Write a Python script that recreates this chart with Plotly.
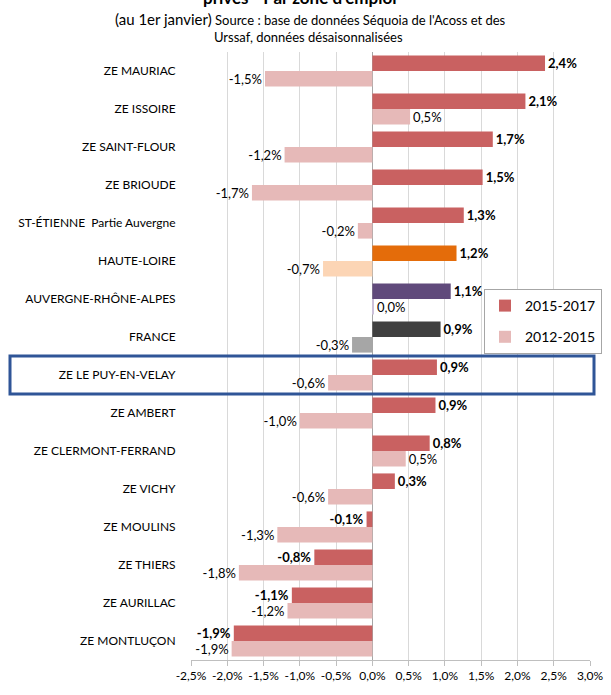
import plotly.graph_objects as go

categories = [
    "ZE MAURIAC", "ZE ISSOIRE", "ZE SAINT-FLOUR", "ZE BRIOUDE",
    "ST-ÉTIENNE  Partie Auvergne", "HAUTE-LOIRE", "AUVERGNE-RHÔNE-ALPES",
    "FRANCE", "ZE LE PUY-EN-VELAY", "ZE AMBERT", "ZE CLERMONT-FERRAND",
    "ZE VICHY", "ZE MOULINS", "ZE THIERS", "ZE AURILLAC", "ZE MONTLUÇON",
]
v_2015_2017 = [2.38, 2.11, 1.66, 1.52, 1.26, 1.16, 1.08, 0.94, 0.89, 0.87,
               0.79, 0.31, -0.08, -0.80, -1.11, -1.91]
v_2012_2015 = [-1.48, 0.52, -1.21, -1.66, -0.20, -0.68, 0.01, -0.28, -0.61,
               -1.00, 0.46, -0.61, -1.31, -1.84, -1.17, -1.94]
series_names = ["2015-2017", "2012-2015"]
tick_vals = [-2.5, -2.0, -1.5, -1.0, -0.5, 0.0, 0.5, 1.0, 1.5, 2.0, 2.5, 3.0]
tick_text = ["-2,5%", "-2,0%", "-1,5%", "-1,0%", "-0,5%", "0,0%", "0,5%",
             "1,0%", "1,5%", "2,0%", "2,5%", "3,0%"]
highlight = "ZE LE PUY-EN-VELAY"

# styling
RED = "#C96161"
PINK = "#E6B9B8"
special_dark = {"HAUTE-LOIRE": "#E46C0A", "AUVERGNE-RHÔNE-ALPES": "#604A7B",
                "FRANCE": "#404040"}
special_light = {"HAUTE-LOIRE": "#FCD5B5", "AUVERGNE-RHÔNE-ALPES": "#CCC1DA",
                 "FRANCE": "#A6A6A6"}
colors_a = [special_dark.get(c, RED) for c in categories]
colors_b = [special_light.get(c, PINK) for c in categories]

FONT = "Lato, 'Open Sans', sans-serif"

fig = go.Figure()
fig.add_trace(go.Bar(
    y=categories, x=v_2015_2017, orientation="h", name=series_names[0],
    legendgroup="a",
    marker=dict(color=colors_a, line=dict(width=0)),
    texttemplate="%{x:.1f}%", textposition="outside",
    textfont=dict(size=13, color="#000000", family=FONT, weight="bold"),
    cliponaxis=False, constraintext="none",
))
fig.add_trace(go.Bar(
    y=categories, x=v_2012_2015, orientation="h", name=series_names[1],
    legendgroup="b",
    marker=dict(color=colors_b, line=dict(width=0)),
    texttemplate="%{x:.1f}%", textposition="outside",
    textfont=dict(size=13, color="#000000", family=FONT),
    cliponaxis=False, constraintext="none",
))

W, H = 611, 695
L, R, T, B = 191, 21, 52, 35
ph = H - T - B

def py(p):
    return (H - B - p) / ph

def px(p):
    return (p - L) / (W - L - R)

idx = categories.index(highlight)
fig.add_shape(type="rect", xref="paper", yref="y",
              x0=px(10), x1=px(594), y0=idx - 0.5, y1=idx + 0.5,
              line=dict(color="#2F5597", width=3), fillcolor="rgba(0,0,0,0)",
              layer="above")

fig.add_annotation(text="<b>privés - Par zone d'emploi</b>", xref="paper", yref="paper",
                   x=px(300), y=py(-2), showarrow=False, xanchor="center", yanchor="middle",
                   font=dict(size=17, color="#000000", family=FONT))
fig.add_annotation(text="<span style='font-size:15px'>(au 1er janvier)</span> Source : base de données Séquoia de l'Acoss et des",
                   xref="paper", yref="paper", x=px(310), y=py(19), showarrow=False,
                   xanchor="center", yanchor="middle",
                   font=dict(size=13, color="#000000", family=FONT))
fig.add_annotation(text="Urssaf, données désaisonnalisées",
                   xref="paper", yref="paper", x=px(308), y=py(37), showarrow=False,
                   xanchor="center", yanchor="middle",
                   font=dict(size=13, color="#000000", family=FONT))

fig.update_layout(
    width=W, height=H,
    margin=dict(l=L, r=R, t=T, b=B, pad=0, autoexpand=False),
    paper_bgcolor="white", plot_bgcolor="white",
    barmode="group", bargap=0.18, bargroupgap=0.0,
    separators=", ",
    font=dict(family=FONT, size=12, color="#000000"),
    showlegend=True,
    legend=dict(x=px(484), y=py(289), xanchor="left", yanchor="top",
                bgcolor="white", bordercolor="#A6A6A6", borderwidth=1,
                font=dict(size=14, family=FONT, color="#000000"),
                itemwidth=30, traceorder="grouped", tracegroupgap=10),
    xaxis=dict(range=[-2.5, 3.0], tickvals=tick_vals, ticktext=tick_text,
               showgrid=True, gridcolor="#D9D9D9", gridwidth=1,
               zeroline=True, zerolinecolor="#A6A6A6", zerolinewidth=1,
               showline=True, linecolor="#BFBFBF", linewidth=1,
               ticks="outside", ticklen=5, tickcolor="#BFBFBF",
               tickfont=dict(size=12, family=FONT, color="#000000"),
               fixedrange=True, automargin=False),
    yaxis=dict(autorange="reversed", showgrid=False, showline=False,
               ticks="outside", ticklen=12, tickcolor="rgba(0,0,0,0)",
               tickfont=dict(size=12, family=FONT, color="#000000"),
               automargin=False),
)

fig.write_html("out.html", config={"displayModeBar": False},
               post_script="document.body.style.margin='0';document.body.style.overflow='hidden';")
